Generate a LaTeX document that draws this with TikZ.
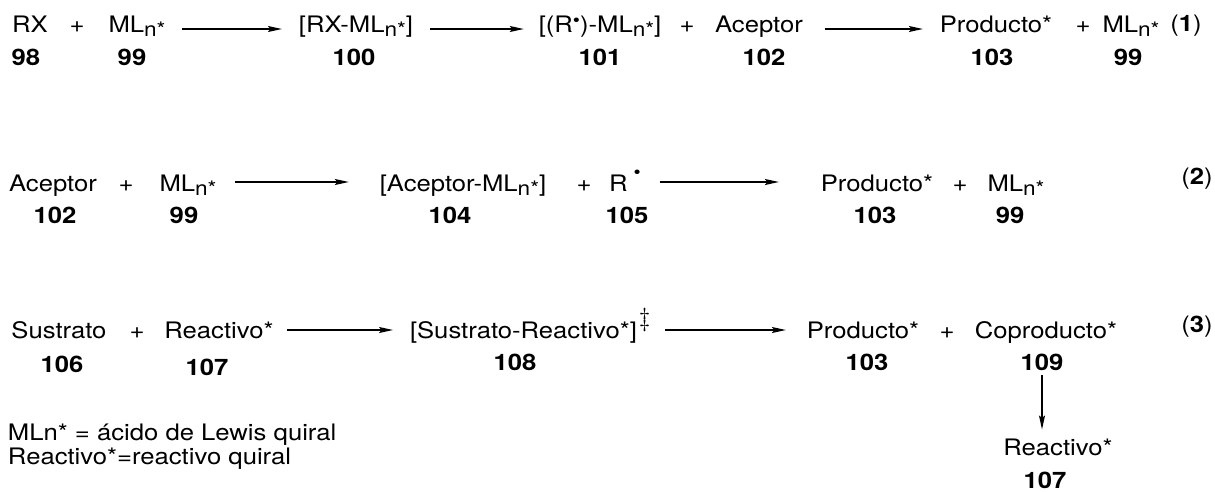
\documentclass[tikz,border=0pt]{standalone}
\usepackage{fontspec}
\setmainfont{TeX Gyre Heros}[FakeStretch=1.13]
\newfontfamily\lmr{Latin Modern Roman}
\usetikzlibrary{arrows.meta,calc}
\newcommand{\MLn}{ML\raisebox{-4pt}{\fontsize{20}{20}\selectfont n*}}
\newcommand{\rdot}[1]{\raisebox{#1}{\fontsize{18}{18}\selectfont\textbullet}}
\tikzset{
  txt/.style={inner sep=0pt, outer sep=0pt, anchor=base, font=\fontsize{22.7}{27}\selectfont},
  num/.style={txt, font=\fontsize{22.7}{27}\selectfont\bfseries},
  rxn/.style={line width=1.4pt, -{Stealth[length=14pt,width=6pt,inset=2.5pt]}},
}
\begin{document}
\begin{tikzpicture}[x=1pt,y=-1pt]
\useasboundingbox (0,0) rectangle (1215,491);
% ---------- row 1
\node[txt] (rx) at (30,32) {RX};
\node[txt] (p1a) at (77,32) {+};
\node[txt] (ml1) at (137,32) {\MLn};
\node[txt] (c100) at (356,32) {[RX-\MLn]};
\node[txt] (c101) at (600,32) {[(R\rdot{5.5pt})-\MLn]};
\node[txt] (p1b) at (687,32) {+};
\node[txt] (ac1) at (759,32) {Aceptor};
\node[txt] (pr1) at (996,32) {Producto*};
\node[txt] (p1c) at (1083,32) {+};
\node[txt] (ml1b) at (1131,32) {\MLn};
\node[txt] (eq1) at (1186,31) {(\textbf{1})};
\node[num] (n98) at (26,65) {98};
\node[num] (n99a) at (132,65) {99};
\node[num] (n100) at (354,65) {100};
\node[num] (n101) at (600,65) {101};
\node[num] (n102a) at (764,65) {102};
\node[num] (n103a) at (992,65) {103};
\node[num] (n99b) at (1128,65) {99};
\draw[rxn] ($(ml1.base east)+(17,-3)$) -- ($(c100.base west)+(-17,-3)$);
\draw[rxn] ($(c100.base east)+(17,-3)$) -- ($(c101.base west)+(-15,-3)$);
\draw[rxn] ($(ac1.base east)+(22,-3)$) -- ($(pr1.base west)+(-17,-3)$);
% ---------- row 2
\node[txt] (ac2) at (53,191) {Aceptor};
\node[txt] (p2a) at (126,191) {+};
\node[txt] (ml2) at (188,191) {\MLn};
\node[txt] (c104) at (463,191) {[Aceptor-\MLn]};
\node[txt] (p2b) at (584,191) {+};
\node[txt, anchor=base west] (r105) at (609,191) {R\hspace{6pt}\rdot{13pt}};
\node[txt] (pr2) at (877,191) {Producto*};
\node[txt] (p2c) at (960,191) {+};
\node[txt] (ml2b) at (1016,191) {\MLn};
\node[txt] (eq2) at (1197,184) {(\textbf{2})};
\node[num] (n102b) at (55,223) {102};
\node[num] (n99c) at (184,223) {99};
\node[num] (n104) at (450,223) {104};
\node[num] (n105) at (627,223) {105};
\node[num] (n103b) at (875,223) {103};
\node[num] (n99d) at (1010,223) {99};
\draw[rxn] ($(ml2.base east)+(19,-9)$) -- ($(c104.base west)+(-31,-9)$);
\draw[rxn] ($(r105.base east)+(19,-9)$) -- ($(pr2.base west)+(-42,-9)$);
% ---------- row 3
\node[txt] (su) at (59,338) {Sustrato};
\node[txt] (p3a) at (137,338) {+};
\node[txt] (re3) at (219,338) {Reactivo*};
\node[txt, anchor=base west] (c108) at (410,338) {[Sustrato-Reactivo*]\hspace{2pt}\raisebox{12pt}{\lmr\fontsize{26}{26}\selectfont\textdaggerdbl}};
\node[txt] (pr3) at (863,338) {Producto*};
\node[txt] (p3b) at (947,338) {+};
\node[txt] (co3) at (1046,338) {Coproducto*};
\node[txt] (eq3) at (1197,332) {(\textbf{3})};
\node[num] (n106) at (62,372) {106};
\node[num] (n107a) at (207,375) {107};
\node[num] (n108) at (515,370) {108};
\node[num] (n103c) at (867,370) {103};
\node[num] (n109) at (1042,370) {109};
\draw[rxn] ($(re3.base east)+(13,-8)$) -- ($(c108.base west)+(-17,-8)$);
\draw[rxn] ($(c108.base east)+(15,-8)$) -- ($(pr3.base west)+(-21,-8)$);
\node[txt] (re4) at (1058,455) {Reactivo*};
\node[num] (n107b) at (1045,488) {107};
\draw[line width=1.3pt, -{Stealth[length=14pt,width=6pt,inset=2.5pt]}, shorten <=5pt, shorten >=9pt]
  (n109.south) -- (n109.south |- re4.north);
% ---------- legend
\node[txt, anchor=base west] (leg1) at (8,440) {MLn* = ácido de Lewis quiral};
\node[txt, anchor=base west] (leg2) at (8,464) {Reactivo*=reactivo quiral};
\end{tikzpicture}
\end{document}
